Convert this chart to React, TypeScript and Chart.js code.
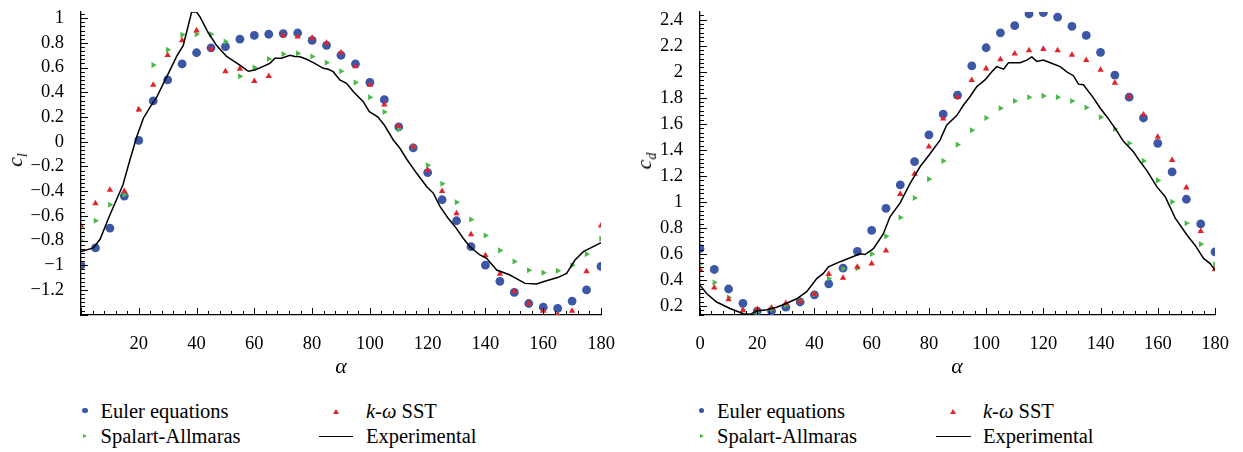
import React, { useEffect, useRef } from "react";
import { Chart, registerables } from "chart.js";

Chart.register(...registerables);

// ---------- data ----------
const ANGLES = [0, 5, 10, 15, 20, 25, 30, 35, 40, 45, 50, 55, 60, 65, 70, 75, 80, 85, 90, 95, 100, 105, 110, 115, 120, 125, 130, 135, 140, 145, 150, 155, 160, 165, 170, 175, 180];

// Lift coefficient c_l
const CL_EULER = [-1.0, -0.86, -0.7, -0.44, 0.01, 0.33, 0.5, 0.63, 0.72, 0.76, 0.77, 0.83, 0.86, 0.87, 0.875, 0.88, 0.82, 0.78, 0.7, 0.63, 0.48, 0.34, 0.12, -0.05, -0.25, -0.47, -0.64, -0.85, -1.0, -1.13, -1.22, -1.31, -1.34, -1.35, -1.29, -1.2, -1.01];
const CL_SST = [-0.68, -0.5, -0.39, -0.4, 0.26, 0.46, 0.7, 0.82, 0.9, 0.75, 0.57, 0.59, 0.49, 0.53, 0.86, 0.85, 0.84, 0.8, 0.72, 0.61, 0.46, 0.3, 0.125, -0.04, -0.23, -0.4, -0.58, -0.75, -0.92, -1.07, -1.21, -1.31, -1.37, -1.4, -1.37, -1.05, -0.68];
const CL_SA = [-0.8, -0.64, -0.51, -0.43, 0.26, 0.62, 0.745, 0.865, 0.87, 0.87, 0.81, 0.53, 0.6, 0.67, 0.71, 0.715, 0.69, 0.64, 0.57, 0.48, 0.36, 0.24, 0.1, -0.04, -0.19, -0.34, -0.49, -0.63, -0.76, -0.88, -0.97, -1.04, -1.06, -1.045, -1.0, -0.91, -0.785];
const CL_EXP_ALPHA = [0, 4.3, 6.6, 9.7, 14.5, 16.9, 19.3, 21.6, 23.9, 26.2, 28.5, 30.8, 33.1, 35.4, 38.3, 40.0, 41.2, 44.1, 46.9, 50.4, 55, 57.9, 60.2, 63.1, 65.4, 67.1, 69.4, 72.3, 74.1, 75.8, 78.1, 80.4, 83.9, 85.6, 87.3, 89.6, 91.9, 94.3, 97.7, 99.8, 102.7, 105, 108.1, 110.4, 112.7, 116.2, 119.7, 122, 124.3, 127.1, 129.5, 132.3, 134.6, 138.1, 140.4, 143.9, 148.5, 153.7, 157.7, 160, 165.2, 168.1, 171, 173.9, 177.3, 180];
const CL_EXP = [-0.89, -0.86, -0.79, -0.61, -0.35, -0.15, 0.04, 0.19, 0.28, 0.36, 0.47, 0.58, 0.69, 0.78, 1.05, 1.05, 1.01, 0.88, 0.78, 0.69, 0.62, 0.57, 0.58, 0.61, 0.635, 0.675, 0.675, 0.7, 0.69, 0.688, 0.667, 0.64, 0.594, 0.586, 0.567, 0.5, 0.473, 0.405, 0.324, 0.243, 0.202, 0.135, 0.014, -0.053, -0.14, -0.256, -0.364, -0.418, -0.526, -0.62, -0.688, -0.782, -0.85, -0.917, -0.944, -1.039, -1.079, -1.147, -1.152, -1.134, -1.098, -1.066, -0.958, -0.89, -0.85, -0.818];

// Drag coefficient c_d
const CD_EULER = [0.64, 0.48, 0.33, 0.22, 0.16, 0.16, 0.19, 0.23, 0.285, 0.37, 0.49, 0.62, 0.78, 0.95, 1.13, 1.31, 1.515, 1.675, 1.82, 2.045, 2.185, 2.3, 2.355, 2.445, 2.455, 2.42, 2.35, 2.28, 2.15, 1.975, 1.805, 1.645, 1.45, 1.23, 1.02, 0.83, 0.615];
const CD_SST = [0.48, 0.34, 0.25, 0.165, 0.175, 0.185, 0.22, 0.235, 0.29, 0.445, 0.415, 0.5, 0.525, 0.625, 1.06, 1.215, 1.425, 1.64, 1.805, 1.935, 2.025, 2.095, 2.14, 2.165, 2.175, 2.165, 2.13, 2.09, 2.015, 1.915, 1.81, 1.67, 1.5, 1.32, 1.11, 0.775, 0.48];
const CD_SA = [0.525, 0.38, 0.265, 0.17, 0.155, 0.175, 0.205, 0.24, 0.29, 0.41, 0.485, 0.49, 0.6, 0.735, 0.88, 1.03, 1.175, 1.315, 1.44, 1.55, 1.645, 1.72, 1.775, 1.805, 1.815, 1.805, 1.775, 1.725, 1.65, 1.56, 1.45, 1.315, 1.165, 1.0, 0.835, 0.675, 0.52];
const CD_EXP_ALPHA = [0, 2.3, 5.8, 10.5, 15.1, 17.5, 19.8, 23.3, 26.8, 30.3, 33.8, 37.3, 40.8, 43.1, 44.9, 49, 53.6, 55.9, 57.7, 60.6, 64.1, 66.4, 69.9, 73.4, 76.9, 80.4, 83.9, 86.2, 89.8, 92.1, 94.4, 96.7, 99.7, 102, 103.7, 106.1, 107.8, 111.9, 114.2, 116, 117.7, 120, 122.4, 125.9, 128.2, 130.5, 132.3, 134, 137.5, 139.9, 142.2, 145.1, 148, 151.5, 153.8, 156.2, 159.7, 162.6, 166.1, 170.2, 173.1, 176, 178.3, 180];
const CD_EXP = [0.36, 0.295, 0.23, 0.18, 0.14, 0.135, 0.16, 0.17, 0.19, 0.22, 0.255, 0.31, 0.41, 0.45, 0.5, 0.54, 0.58, 0.6, 0.595, 0.64, 0.755, 0.885, 0.99, 1.14, 1.27, 1.37, 1.475, 1.59, 1.665, 1.745, 1.81, 1.885, 1.94, 2.0, 2.04, 2.02, 2.07, 2.07, 2.09, 2.115, 2.08, 2.09, 2.07, 2.04, 2.0, 1.97, 1.905, 1.9, 1.8, 1.72, 1.655, 1.565, 1.465, 1.385, 1.31, 1.24, 1.115, 1.04, 0.875, 0.745, 0.665, 0.565, 0.525, 0.475];

// Tick labels
const CL_X_TICKS = [20, 40, 60, 80, 100, 120, 140, 160, 180];
const CD_X_TICKS = [0, 20, 40, 60, 80, 100, 120, 140, 160, 180];
const CL_Y_TICKS = [-1.2, -1, -0.8, -0.6, -0.4, -0.2, 0, 0.2, 0.4, 0.6, 0.8, 1];
const CD_Y_TICKS = [0.2, 0.4, 0.6, 0.8, 1, 1.2, 1.4, 1.6, 1.8, 2, 2.2, 2.4];

// ---------- styles ----------
const FONT = "Liberation Serif, DejaVu Serif, serif";
const BLUE = "#3b57a6";
const RED = "#e0242a";
const GREEN = "#4bb848";
const CANVAS_H = 380;

const fmt = (v: number) => {
  const r = Math.round(v * 1000) / 1000;
  return r < 0 ? "\u2212" + String(Math.abs(r)) : String(r);
};

const minorTickPlugin = {
  id: "minorTicks",
  afterDraw(chart: any, _args: any, opts: any) {
    const { ctx, chartArea } = chart;
    const xs = chart.scales.x;
    const ys = chart.scales.y;
    ctx.save();
    ctx.strokeStyle = "#000";
    ctx.lineWidth = 1;
    ctx.beginPath();
    const xStep = opts.xMajor / opts.xSub;
    for (let k = 0; k * xStep <= xs.max + 1e-9; k++) {
      const v = k * xStep;
      if (v < xs.min - 1e-9) continue;
      const px = Math.round(xs.getPixelForValue(v)) + 0.5;
      const len = k % opts.xSub === 0 ? 7 : 4;
      ctx.moveTo(px, chartArea.bottom);
      ctx.lineTo(px, chartArea.bottom - len);
    }
    const yStep = opts.yMajor / opts.ySub;
    const k0 = Math.ceil(ys.min / yStep - 1e-9);
    for (let k = k0; k * yStep <= ys.max + 1e-9; k++) {
      const v = k * yStep;
      const py = Math.round(ys.getPixelForValue(v)) + 0.5;
      const len = ((k % opts.ySub) + opts.ySub) % opts.ySub === 0 ? 7 : 4;
      ctx.moveTo(chartArea.left, py);
      ctx.lineTo(chartArea.left + len, py);
    }
    ctx.stroke();
    ctx.restore();
  },
};

type Spec = {
  euler: number[];
  sst: number[];
  sa: number[];
  expA: number[];
  exp: number[];
  xTicks: number[];
  yTicks: number[];
  yMin: number;
  yMax: number;
  yWidth: number;
  padRight: number;
};

function buildConfig(p: Spec): any {
  const pts = (ys: number[]) => ANGLES.map((a, i) => ({ x: a, y: ys[i] }));
  return {
    type: "scatter",
    data: {
      datasets: [
        {
          label: "Experimental",
          data: p.expA.map((a, i) => ({ x: a, y: p.exp[i] })),
          showLine: true,
          borderColor: "#000",
          borderWidth: 1.5,
          pointRadius: 0,
          fill: false,
          order: 0,
        },
        {
          label: "k-ω SST",
          data: pts(p.sst),
          pointStyle: "triangle",
          pointRadius: 3.7,
          pointBackgroundColor: RED,
          backgroundColor: RED,
          pointBorderWidth: 0,
          borderWidth: 0,
          order: 1,
        },
        {
          label: "Spalart-Allmaras",
          data: pts(p.sa),
          pointStyle: "triangle",
          pointRotation: 90,
          rotation: 90,
          pointRadius: 3.5,
          pointBackgroundColor: GREEN,
          backgroundColor: GREEN,
          pointBorderWidth: 0,
          borderWidth: 0,
          order: 2,
        },
        {
          label: "Euler equations",
          data: pts(p.euler),
          pointStyle: "circle",
          pointRadius: 4.4,
          pointBackgroundColor: BLUE,
          backgroundColor: BLUE,
          pointBorderWidth: 0,
          borderWidth: 0,
          order: 3,
        },
      ],
    },
    options: {
      responsive: false,
      animation: false,
      events: [],
      layout: { padding: { left: 0, top: 12, right: p.padRight, bottom: 0 } },
      plugins: {
        legend: { display: false },
        tooltip: { enabled: false },
        minorTicks: { xMajor: 20, xSub: 5, yMajor: 0.2, ySub: 6 },
      },
      scales: {
        x: {
          type: "linear",
          position: "bottom",
          min: 0,
          max: 180,
          grid: { display: false },
          border: { display: true, color: "#000", width: 1.3 },
          ticks: {
            autoSkip: false,
            maxRotation: 0,
            padding: 10,
            color: "#000",
            font: { family: FONT, size: 18.5 },
            callback: (v: number) => fmt(v),
          },
          afterBuildTicks: (s: any) => {
            s.ticks = p.xTicks.map((v) => ({ value: v }));
          },
          afterFit: (s: any) => {
            s.height = 65;
            s.paddingLeft = 0;
            s.paddingRight = 0;
          },
        },
        y: {
          type: "linear",
          position: "left",
          min: p.yMin,
          max: p.yMax,
          grid: { display: false },
          border: { display: true, color: "#000", width: 1.3 },
          ticks: {
            autoSkip: false,
            padding: 9,
            color: "#000",
            font: { family: FONT, size: 18.5 },
            callback: (v: number) => fmt(v),
          },
          afterBuildTicks: (s: any) => {
            s.ticks = p.yTicks.map((v) => ({ value: v }));
          },
          afterFit: (s: any) => {
            s.width = p.yWidth;
            s.paddingTop = 0;
            s.paddingBottom = 0;
          },
        },
      },
    },
    plugins: [minorTickPlugin],
  };
}

function Panel({ spec, left, width }: { spec: Spec; left: number; width: number }) {
  const ref = useRef<HTMLCanvasElement>(null);
  useEffect(() => {
    const chart = new Chart(ref.current as HTMLCanvasElement, buildConfig(spec));
    return () => chart.destroy();
  }, []);
  return (
    <canvas
      ref={ref}
      width={width}
      height={CANVAS_H}
      style={{ position: "absolute", left, top: 0, width, height: CANVAS_H }}
    />
  );
}

const LEFT_SPEC: Spec = {
  euler: CL_EULER,
  sst: CL_SST,
  sa: CL_SA,
  expA: CL_EXP_ALPHA,
  exp: CL_EXP,
  xTicks: CL_X_TICKS,
  yTicks: CL_Y_TICKS,
  yMin: -1.403,
  yMax: 1.05,
  yWidth: 81,
  padRight: 20,
};

const RIGHT_SPEC: Spec = {
  euler: CD_EULER,
  sst: CD_SST,
  sa: CD_SA,
  expA: CD_EXP_ALPHA,
  exp: CD_EXP,
  xTicks: CD_X_TICKS,
  yTicks: CD_Y_TICKS,
  yMin: 0.13,
  yMax: 2.46,
  yWidth: 79,
  padRight: 28,
};

const abs = (left: number, top: number): React.CSSProperties => ({ position: "absolute", left, top });

function Legend({ x1, x2, markX2, lineX1, lineX2 }: { x1: number; x2: number; markX2: number; lineX1: number; lineX2: number }) {
  const textStyle = (left: number, top: number): React.CSSProperties => ({
    ...abs(left, top),
    fontSize: 20.5,
    lineHeight: "20px",
    whiteSpace: "nowrap",
    color: "#000",
  });
  const dotX = x1 - 15.5;
  return (
    <>
      <div style={{ ...abs(dotX - 2.7, 408), width: 5.4, height: 5.4, borderRadius: "50%", background: BLUE }} />
      <div style={textStyle(x1, 401)}>Euler equations</div>
      <div
        style={{
          ...abs(markX2 - 3, 408.5),
          width: 0,
          height: 0,
          borderLeft: "3px solid transparent",
          borderRight: "3px solid transparent",
          borderBottom: `5px solid ${RED}`,
        }}
      />
      <div style={textStyle(x2, 401)}>
        <i>k</i>-<i>ω</i> SST
      </div>
      <div
        style={{
          ...abs(dotX - 2, 434),
          width: 0,
          height: 0,
          borderTop: "2.6px solid transparent",
          borderBottom: "2.6px solid transparent",
          borderLeft: `4.5px solid ${GREEN}`,
        }}
      />
      <div style={textStyle(x1, 426)}>Spalart-Allmaras</div>
      <div style={{ ...abs(lineX1, 435.5), width: lineX2 - lineX1, height: 1.5, background: "#000" }} />
      <div style={textStyle(x2, 426)}>Experimental</div>
    </>
  );
}

const titleStyle = (cx: number, cy: number, rotate: boolean): React.CSSProperties => ({
  position: "absolute",
  left: cx,
  top: cy,
  transform: `translate(-50%, -50%)${rotate ? " rotate(-90deg)" : ""}`,
  fontStyle: "italic",
  fontSize: 22,
  lineHeight: "22px",
  whiteSpace: "nowrap",
  color: "#000",
});

export default function App() {
  return (
    <div
      style={{
        position: "fixed",
        left: 0,
        top: 0,
        width: 1243,
        height: 452,
        background: "#fff",
        fontFamily: FONT,
        overflow: "hidden",
      }}
    >
      <Panel spec={LEFT_SPEC} left={0} width={621} />
      <Panel spec={RIGHT_SPEC} left={621} width={622} />

      <div style={titleStyle(19, 160, true)}>
        c<span style={{ fontSize: 14, verticalAlign: "-0.35em" }}>l</span>
      </div>
      <div style={titleStyle(648, 161, true)}>
        c<span style={{ fontSize: 14, verticalAlign: "-0.35em" }}>d</span>
      </div>
      <div style={titleStyle(341, 366, false)}>α</div>
      <div style={titleStyle(957, 366, false)}>α</div>

      <Legend x1={100.5} x2={366} markX2={336} lineX1={319} lineX2={353} />
      <Legend x1={717} x2={983} markX2={953} lineX1={936} lineX2={971} />
    </div>
  );
}
